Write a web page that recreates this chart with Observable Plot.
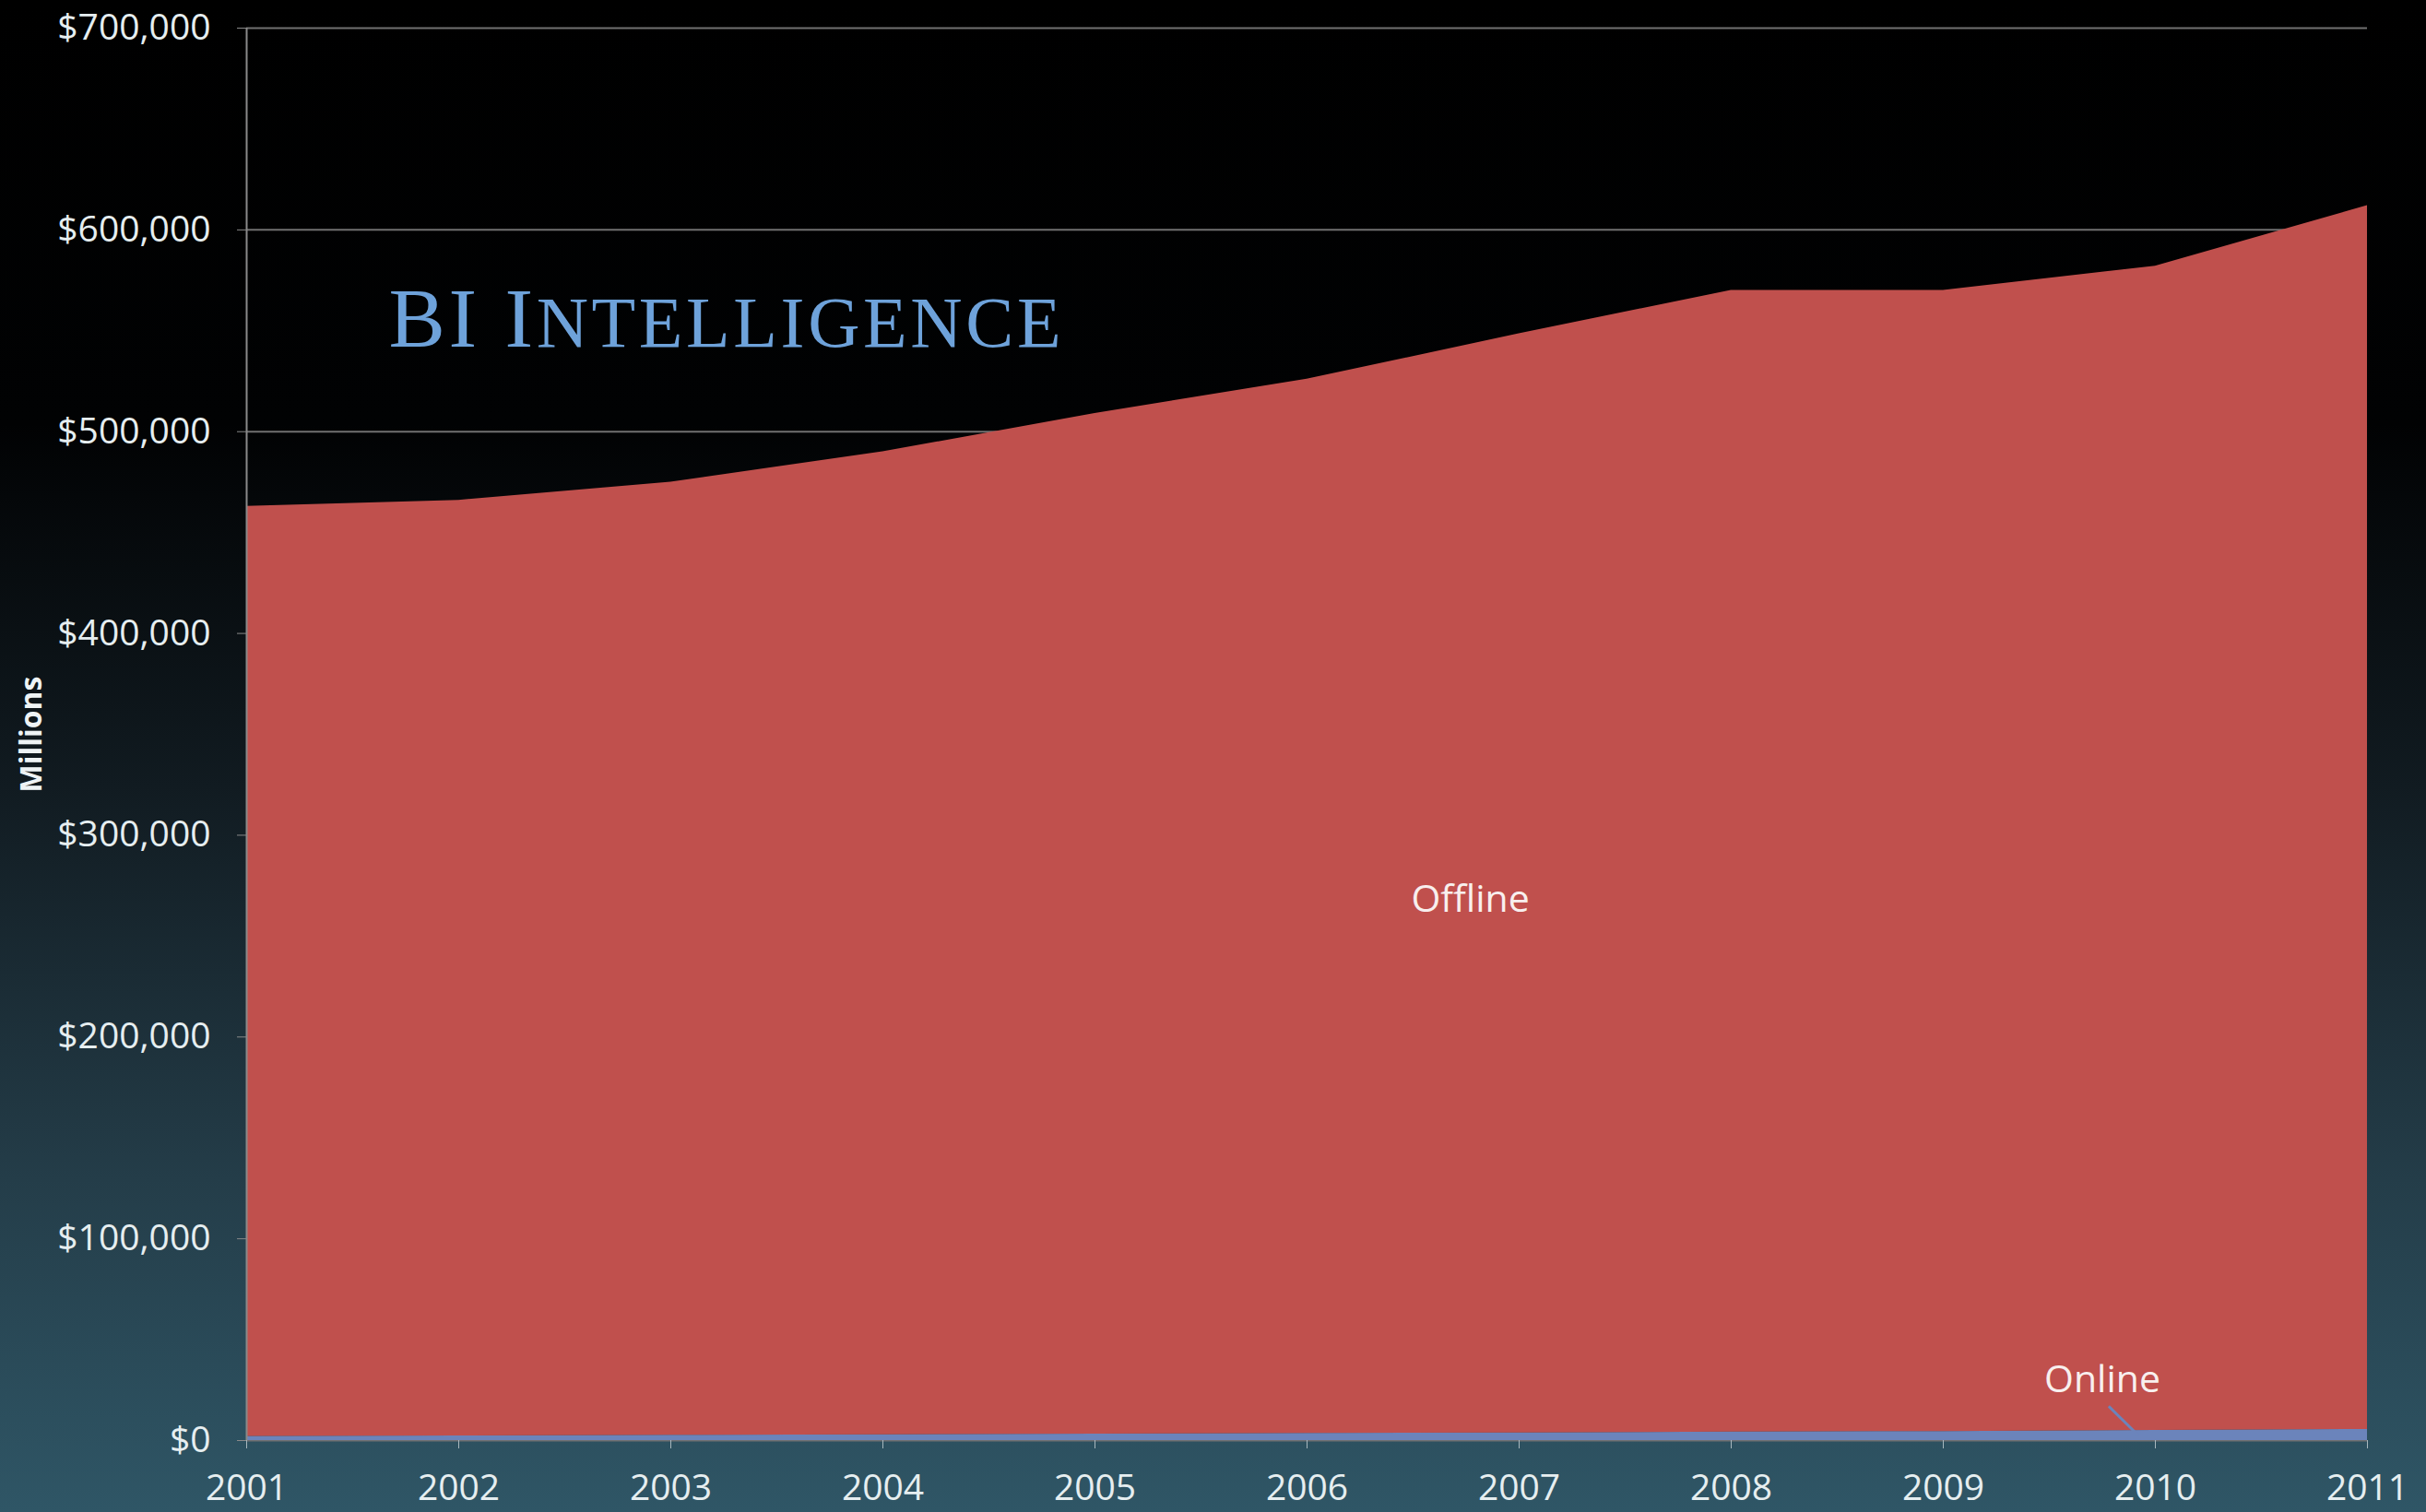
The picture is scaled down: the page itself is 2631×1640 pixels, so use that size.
<!DOCTYPE html>
<html>
<head>
<meta charset="utf-8">
<script src="https://cdn.jsdelivr.net/npm/d3@7"></script>
<script src="https://cdn.jsdelivr.net/npm/@observablehq/plot@0.6"></script>
<style>
  html, body { margin: 0; padding: 0; background: #000; }
  #chart {
    width: 2631px; height: 1640px; overflow: hidden;
    background: linear-gradient(to bottom, #000000 0%, #010203 28%, #111b21 52%, #243d49 78%, #2f5666 100%);
  }
  #chart svg { display: block; }
</style>
</head>
<body>
<div id="chart"></div>
<script>
// ---- data ----
const years = [2001, 2002, 2003, 2004, 2005, 2006, 2007, 2008, 2009, 2010, 2011];
const online = [2000, 2300, 2600, 2900, 3200, 3500, 3800, 4200, 4500, 5000, 5500];
const offline = [461000, 463700, 472400, 487100, 505800, 522500, 544700, 565800, 565500, 577000, 606500];
const seriesNames = ["Online", "Offline"];
const seriesColors = ["#6b84bb", "#c0504d"];
const yTicks = [0, 100000, 200000, 300000, 400000, 500000, 600000, 700000];
const titleText = "BI Intelligence";
const titleParts = ["BI I", "NTELLIGENCE"];
const axisTitle = "Millions";
const seriesLabels = [
  {x: 2006.77, y: 268000, text: "Offline"},
  {x: 2009.75, y: 30000, text: "Online"}
];
const leader = [{x1: 2009.78, y1: 17000, x2: 2009.92, y2: 2500}];

// ---- table ----
const rows = [];
years.forEach((yr, i) => {
  rows.push({year: yr, series: "Online", value: online[i]});
  rows.push({year: yr, series: "Offline", value: offline[i]});
});

const plot = Plot.plot({
  width: 2631,
  height: 1640,
  marginLeft: 267,
  marginRight: 64,
  marginTop: 30,
  marginBottom: 78,
  style: {background: "transparent", fontFamily: "'Open Sans', sans-serif", fontSize: "39px", overflow: "visible"},
  x: {domain: [2001, 2011], label: null},
  y: {domain: [0, 700000], label: null},
  color: {domain: seriesNames, range: seriesColors},
  marks: [
    Plot.ruleY(yTicks, {stroke: "#707070", strokeWidth: 2}),
    Plot.areaY(rows, {x: "year", y: "value", fill: "series", z: "series"}),
    Plot.ruleX([2001], {y1: 0, y2: 700000, stroke: "#8a8a8a", strokeWidth: 2}),
    Plot.axisY({ticks: yTicks, tickFormat: d3.format("$,"), tickSize: 10, tickPadding: 29,
      stroke: "#8a8a8a", fill: "#e6eef0", label: null}),
    Plot.axisX({ticks: years, tickFormat: "d", tickSize: 9, tickPadding: 28,
      stroke: "#a8b8be", fill: "#e6eef0", label: null}),
    Plot.link(leader, {x1: "x1", y1: "y1", x2: "x2", y2: "y2", stroke: "#6b84bb", strokeWidth: 3}),
    Plot.text(seriesLabels, {x: "x", y: "y", text: "text", fill: "#f8efee", fontSize: 41}),
    Plot.text([titleText], {x: 2001.67, y: 555600, text: d => d, textAnchor: "start",
      fontFamily: "'Liberation Serif', serif", fontSize: 92, fill: "#6ea2da"}),
    Plot.text([axisTitle], {frameAnchor: "left", text: d => d, rotate: -90, dx: -233, textAnchor: "middle",
      fontWeight: "bold", fontSize: 32, fill: "#eef3f5"})
  ]
});

// Render title as small caps with taller small letters (as in the reference logo)
d3.select(plot).selectAll("text").filter(function() { return this.textContent === titleText; })
  .each(function() {
    const t = d3.select(this);
    t.text(null);
    t.append("tspan").text(titleParts[0]);
    t.append("tspan").attr("font-size", 78).text(titleParts[1]);
    t.attr("textLength", 729).attr("lengthAdjust", "spacing");
  });

document.getElementById("chart").appendChild(plot);
</script>
</body>
</html>
